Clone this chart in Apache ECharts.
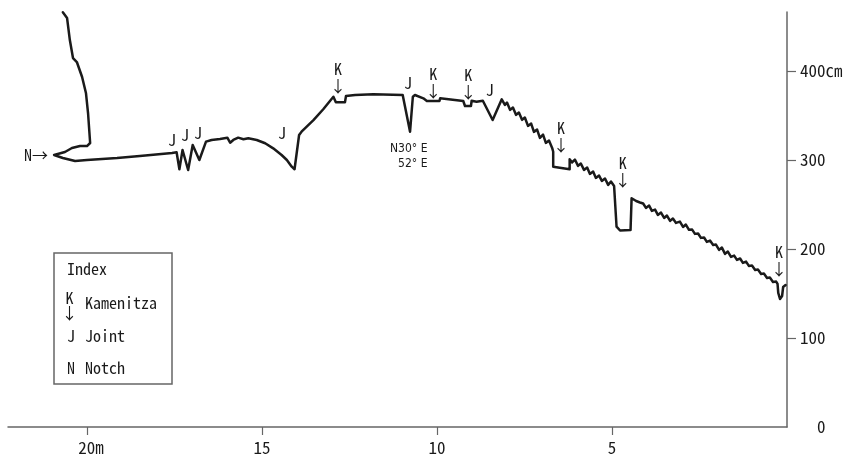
<!DOCTYPE html>
<html><head><meta charset="utf-8">
<script src="https://cdn.jsdelivr.net/npm/echarts@6/dist/echarts.min.js"></script>
<style>html,body{margin:0;padding:0;background:#fff}#c{width:848px;height:461px}</style>
</head><body><div id="c"></div>
<script>
// Profile: horizontal distance (m) and height (cm)
const distance = [
  20.69,20.57,20.49,20.40,20.29,20.14,20.03,19.97,19.91,20.00,
  20.20,20.43,20.63,20.94,20.69,20.34,20.00,19.14,18.49,17.57,
  17.44,17.36,17.27,17.11,16.98,16.79,16.60,16.44,16.20,15.99,
  15.91,15.82,15.68,15.53,15.39,15.15,14.91,14.68,14.44,14.29,
  14.15,14.07,13.94,13.87,13.53,13.25,12.96,12.91,12.89,12.63,
  12.60,12.34,11.82,11.77,10.98,10.77,10.69,10.63,10.39,10.29,
  9.93,9.91,9.25,9.20,9.03,9.01,8.87,8.69,8.41,8.15,
  8.06,8.00,7.91,7.83,7.74,7.66,7.57,7.49,7.40,7.31,
  7.23,7.14,7.06,6.97,6.89,6.80,6.71,6.68,6.68,6.21,
  6.21,6.14,6.06,5.97,5.89,5.80,5.71,5.63,5.54,5.46,
  5.37,5.29,5.20,5.11,5.03,4.94,4.87,4.77,4.47,4.44,
  4.31,4.20,4.11,4.03,3.94,3.86,3.77,3.69,3.60,3.51,
  3.43,3.34,3.26,3.17,3.06,2.97,2.89,2.80,2.71,2.63,
  2.54,2.46,2.37,2.29,2.20,2.11,2.03,1.94,1.86,1.77,
  1.69,1.60,1.51,1.43,1.34,1.26,1.17,1.09,1.00,0.91,
  0.83,0.74,0.66,0.57,0.49,0.40,0.31,0.27,0.25,0.20,
  0.14,0.11,0.04
];
const height = [
  466.0,459.6,434.8,414.6,410.1,393.3,375.3,352.8,319.1,315.7,
  315.7,313.5,309.0,305.6,302.2,298.9,300.0,302.2,304.5,307.9,
  308.7,289.6,311.2,288.8,316.9,300.0,320.6,322.5,323.6,325.1,
  319.4,322.5,325.1,323.3,324.4,322.5,318.8,313.1,305.6,300.0,
  292.5,289.6,328.1,331.8,344.9,357.0,371.1,369.3,364.8,364.8,
  371.9,373.0,373.8,372.2,373.0,331.8,371.1,373.0,369.3,366.3,
  366.3,369.3,366.3,360.7,360.7,366.6,365.5,366.6,344.9,368.2,
  361.9,364.5,356.3,358.9,350.7,353.3,345.1,347.7,338.3,340.9,
  331.6,334.2,324.8,328.6,319.2,321.8,313.6,309.3,292.5,289.6,
  300.8,297.3,300.5,293.4,296.0,288.9,291.5,284.4,287.0,279.9,
  282.5,276.5,279.2,272.0,275.8,270.8,225.1,220.8,221.3,257.0,
  253.9,252.3,251.1,246.2,248.8,242.8,244.3,238.3,240.9,234.9,
  237.6,231.6,234.2,229.3,230.8,224.8,227.5,221.5,221.8,217.0,
  217.4,212.5,212.9,208.0,209.5,204.6,205.0,199.0,201.6,194.5,
  197.1,191.1,192.6,187.8,189.3,184.4,185.9,181.0,181.4,176.5,
  176.9,172.0,172.4,167.5,167.9,163.0,163.4,160.7,150.6,143.8,
  147.2,157.3,159.6
];
// Annotations (label anchor positions)
const kamenitzaX = [12.83, 10.11, 9.11, 6.46, 4.69, 0.23];
const kamenitzaY = [393.3, 387.6, 386.0, 326.4, 287.1, 187.6];
const jointX = [17.57, 17.20, 16.83, 14.43, 10.83, 8.49];
const jointY = [322.5, 328.1, 330.3, 330.3, 386.5, 378.7];
const notchX = [21.46];
const notchY = [305.6];
const strikeX = [10.257];
const strikeY = [303.9];
const strikeText = 'N30° E\n52° E';
const xTicks = [5, 10, 15, 20];
const xTickLabels = {5: '5', 10: '10', 15: '15', 20: '20m'};
const yTicks = [100, 200, 300, 400];
const yLabelValues = [0, 100, 200, 300, 400];
const yTickLabels = {0: '  0', 100: '100', 200: '200', 300: '300', 400: '400㎝'};
const legendTitle = 'Index';
const legendItems = [['K\n↓', 'Kamenitza'], ['J', 'Joint'], ['N', 'Notch']];

const FONT = "'Noto Sans Mono CJK JP','Noto Sans CJK JP','DejaVu Sans Mono',monospace";
const NARROW = "'Liberation Sans Narrow','DejaVu Sans Condensed','Noto Sans',sans-serif";
const INK = '#1a1a1a';
const AXIS = '#666';

const chart = echarts.init(document.getElementById('c'), null, {renderer: 'canvas'});
const pts = (xs, ys) => xs.map((x, i) => [x, ys[i]]);
function annot(xs, ys, label) {
  return {
    type: 'scatter', data: pts(xs, ys), symbol: 'circle', symbolSize: 1,
    itemStyle: {color: 'rgba(0,0,0,0)', opacity: 1}, silent: true, clip: false, z: 5,
    label: Object.assign({show: true, position: 'inside', align: 'center', verticalAlign: 'middle',
      fontFamily: FONT, fontSize: 16, lineHeight: 17, color: INK, textBorderWidth: 0}, label)
  };
}
const option = {
  animation: false,
  backgroundColor: '#fff',
  grid: {left: 8, right: 61, top: 12, bottom: 34, containLabel: false},
  xAxis: {
    type: 'value', inverse: true, min: 0, max: 22.257,
    axisLine: {show: true, onZero: false, lineStyle: {color: AXIS, width: 1.5}},
    axisTick: {show: true, customValues: xTicks, length: 8, lineStyle: {color: AXIS, width: 1.2}},
    axisLabel: {customValues: xTicks, formatter: v => v === 20 ? '{u|20m}' : xTickLabels[v], margin: 12,
      fontFamily: FONT, fontSize: 17, color: INK,
      rich: {u: {fontFamily: FONT, fontSize: 17, color: INK, padding: [0, 0, 0, 8]}}},
    splitLine: {show: false}
  },
  yAxis: {
    type: 'value', position: 'right', min: 0, max: 466.3,
    axisLine: {show: true, onZero: false, lineStyle: {color: AXIS, width: 1.5}},
    axisTick: {show: true, customValues: yTicks, length: 9, lineStyle: {color: AXIS, width: 1.2}},
    axisLabel: {customValues: yLabelValues, formatter: v => yTickLabels[v], margin: 13,
      fontFamily: FONT, fontSize: 17, color: INK},
    splitLine: {show: false}
  },
  series: [
    {type: 'line', data: pts(distance, height), symbol: 'none', clip: false, smooth: false,
      lineStyle: {color: INK, width: 2.5, join: 'round', cap: 'round'}, z: 3},
    annot(kamenitzaX, kamenitzaY, {formatter: 'K\n↓'}),
    annot(jointX, jointY, {formatter: 'J'}),
    annot(notchX, notchY, {formatter: 'N→'}),
    annot(strikeX, strikeY, {formatter: strikeText, position: 'left', distance: 0, align: 'right',
      fontFamily: NARROW, fontSize: 12, lineHeight: 15})
  ],
  graphic: [
    {type: 'rect', shape: {x: 54, y: 253, width: 118, height: 131},
      style: {fill: 'none', stroke: AXIS, lineWidth: 1.5}},
    {type: 'text', x: 67, y: 269, style: {text: legendTitle, font: '16px ' + FONT, fill: INK, verticalAlign: 'middle'}},
    {type: 'text', x: 69.5, y: 305, style: {text: legendItems[0][0], font: '16px ' + FONT, fill: INK, align: 'center', verticalAlign: 'middle', lineHeight: 15}},
    {type: 'text', x: 85, y: 303, style: {text: legendItems[0][1], font: '16px ' + FONT, fill: INK, verticalAlign: 'middle'}},
    {type: 'text', x: 67, y: 336, style: {text: legendItems[1][0], font: '16px ' + FONT, fill: INK, verticalAlign: 'middle'}},
    {type: 'text', x: 85, y: 336, style: {text: legendItems[1][1], font: '16px ' + FONT, fill: INK, verticalAlign: 'middle'}},
    {type: 'text', x: 67, y: 367.5, style: {text: legendItems[2][0], font: '16px ' + FONT, fill: INK, verticalAlign: 'middle'}},
    {type: 'text', x: 85, y: 367.5, style: {text: legendItems[2][1], font: '16px ' + FONT, fill: INK, verticalAlign: 'middle'}}
  ]
};
chart.setOption(option);
</script>
</body></html>
